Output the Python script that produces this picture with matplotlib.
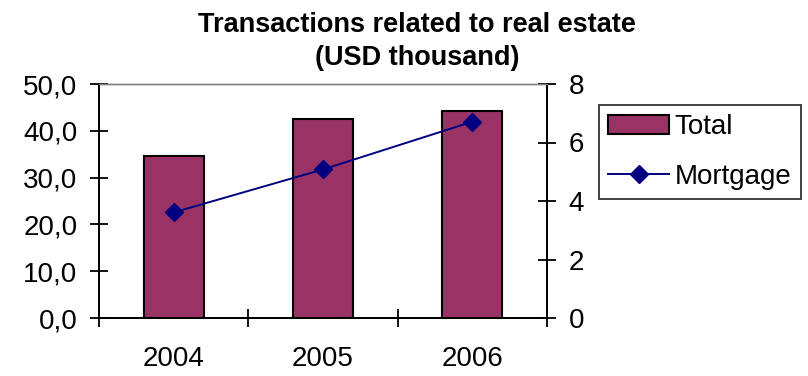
import matplotlib
matplotlib.use("Agg")
import matplotlib.pyplot as plt
from matplotlib.ticker import FixedLocator, FuncFormatter

plt.rcParams['font.family'] = ['Liberation Sans', 'DejaVu Sans']

years = ['2004', '2005', '2006']
total = [34.7, 42.5, 44.3]
mortgage = [3.61, 5.08, 6.71]

bar_color = '#993366'
line_color = '#000080'
fs = 20

fig = plt.figure(figsize=(8.08, 3.76), dpi=100)
ax = fig.add_axes([99 / 808, 58 / 376, 448 / 808, 234 / 376])
ax2 = ax.twinx()

x = list(range(len(years)))
ax.bar(x, total, width=0.4, color=bar_color, edgecolor='black', linewidth=1.5,
       label='Total', zorder=2)
ax2.plot(x, mortgage, color=line_color, lw=1.4, marker='D', markersize=9,
         label='Mortgage', zorder=3)

ax.set_xlim(-0.5, 2.5)
ax.set_ylim(0, 50)
ax2.set_ylim(0, 8)

# category boundaries get the tick marks, year labels sit in between
ax.xaxis.set_major_locator(FixedLocator([-0.5, 0.5, 1.5, 2.5]))
ax.xaxis.set_major_formatter(FuncFormatter(lambda v, p: ''))
ax.xaxis.set_minor_locator(FixedLocator(x))
ax.xaxis.set_minor_formatter(FuncFormatter(lambda v, p: years[int(round(v))]))
ax.tick_params(axis='x', which='major', direction='inout', length=13, width=1.3)
ax.tick_params(axis='x', which='minor', length=0, pad=20, labelsize=fs)

ax.set_yticks([0, 10, 20, 30, 40, 50])
ax.yaxis.set_major_formatter(FuncFormatter(lambda v, p: f'{v:.1f}'.replace('.', ',')))
ax.tick_params(axis='y', direction='inout', length=13, width=1.3, labelsize=fs, pad=9)

ax2.set_yticks([0, 2, 4, 6, 8])
ax2.tick_params(axis='y', direction='inout', length=13, width=1.3, labelsize=fs, pad=9)

for a in (ax, ax2):
    for s in a.spines.values():
        s.set_linewidth(1.3)
    a.spines['top'].set_color('#808080')
    a.spines['top'].set_linewidth(1.0)

fig.text(417 / 808, 1 - 25 / 376, 'Transactions related to real estate',
         ha='center', va='center', fontsize=19.5, fontweight='bold')
fig.text(417 / 808, 1 - 58 / 376, '(USD thousand)',
         ha='center', va='center', fontsize=19.5, fontweight='bold')

h1, l1 = ax.get_legend_handles_labels()
h2, l2 = ax2.get_legend_handles_labels()
leg = fig.legend(h1 + h2, l1 + l2, loc='upper left',
                 bbox_to_anchor=(599 / 808, 1 - 105 / 376), fontsize=fs,
                 frameon=True, fancybox=False, edgecolor='black',
                 handlelength=2.2, borderpad=0.33, labelspacing=0.85,
                 handletextpad=0.2, borderaxespad=0)
leg.get_frame().set_linewidth(1.3)

fig.savefig('out.png', dpi=100)
